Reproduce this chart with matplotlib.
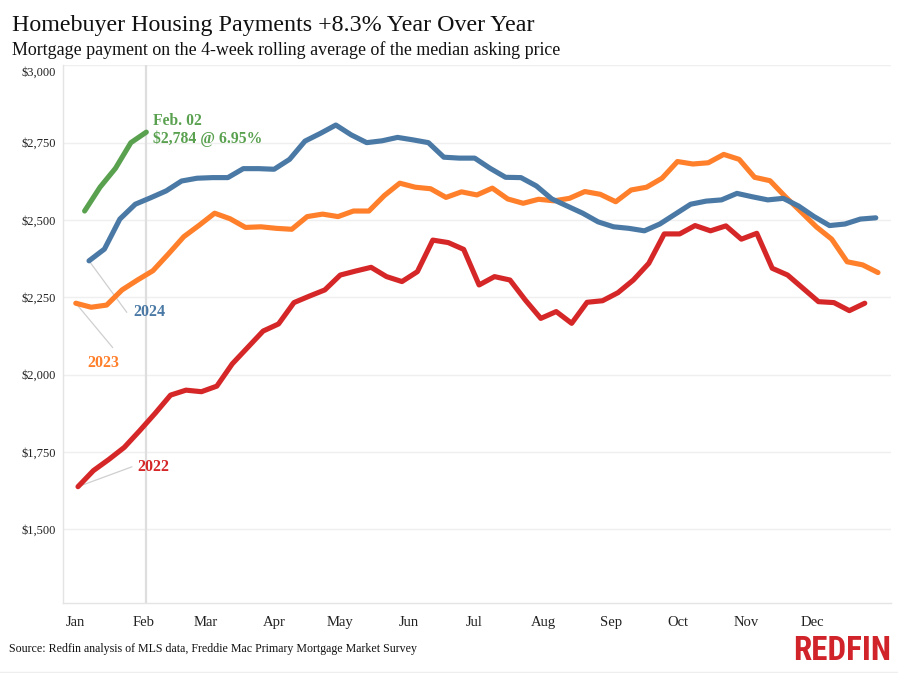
import numpy as np
import matplotlib
matplotlib.use("Agg")
import matplotlib.pyplot as plt
from matplotlib import font_manager as fm
from matplotlib.transforms import ScaledTranslation

# ---- data (weekly values, x = day of year of the week's Sunday) ----
start_2022, start_2023, start_2024, start_2025 = 2, 1, 7, 5
vals_2022 = [1638, 1690, 1726, 1765, 1819, 1875, 1934, 1950, 1945, 1963, 2035, 2088,
             2141, 2164, 2233, 2254, 2274, 2322, 2335, 2347, 2317, 2301, 2333, 2435,
             2427, 2405, 2290, 2317, 2306, 2241, 2182, 2204, 2166, 2234, 2239, 2265,
             2306, 2360, 2455, 2455, 2482, 2465, 2481, 2438, 2457, 2344, 2322, 2279,
             2236, 2233, 2207, 2231]
vals_2023 = [2231, 2218, 2225, 2274, 2306, 2336, 2390, 2446, 2483, 2522, 2504, 2476,
             2478, 2473, 2470, 2511, 2519, 2511, 2529, 2529, 2579, 2619, 2606, 2601,
             2573, 2591, 2581, 2603, 2568, 2554, 2567, 2562, 2570, 2592, 2583, 2559,
             2597, 2606, 2635, 2689, 2681, 2685, 2712, 2696, 2638, 2627, 2575, 2527,
             2478, 2438, 2365, 2355, 2330]
vals_2024 = [2368, 2406, 2503, 2551, 2572, 2594, 2626, 2635, 2637, 2637, 2666, 2666,
             2664, 2696, 2755, 2780, 2807, 2775, 2750, 2756, 2767, 2759, 2750, 2703,
             2700, 2700, 2667, 2638, 2637, 2610, 2568, 2545, 2522, 2494, 2478, 2473,
             2465, 2487, 2519, 2551, 2561, 2565, 2586, 2575, 2565, 2570, 2545, 2511,
             2482, 2487, 2503, 2507]
vals_2025 = [2529, 2606, 2667, 2750, 2784]

month_labels = ["Jan", "Feb", "Mar", "Apr", "May", "Jun", "Jul", "Aug", "Sep", "Oct", "Nov", "Dec"]
month_days = [1, 32, 60, 91, 121, 152, 182, 213, 244, 274, 305, 335]
y_ticks = [1500, 1750, 2000, 2250, 2500, 2750, 3000]

title = "Homebuyer Housing Payments +8.3% Year Over Year"
subtitle = "Mortgage payment on the 4-week rolling average of the median asking price"
source = "Source: Redfin analysis of MLS data, Freddie Mac Primary Mortgage Market Survey"
current_day = 33
current_text = "Feb. 02\n$2,784 @ 6.95%"

c2022, c2023, c2024, c2025 = "#D62728", "#FF7F2A", "#4A79A5", "#59A14F"

def days(start, vals):
    return start + 7 * np.arange(len(vals))

plt.rcParams['font.family'] = ['Liberation Serif', 'DejaVu Serif']

fig = plt.figure(figsize=(8.98, 6.73), dpi=100)
ax = fig.add_axes([63/898, 1-603/673, (891-63)/898, (603-65)/673])

ax.set_xlim(-4.8, 370.9)
ax.set_ylim(1262, 3001)

for y in y_ticks:
    ax.axhline(y, color="#efefef", lw=1.0, zorder=0)
ax.axvline(current_day, color="#dedede", lw=1.6, zorder=0.5)

lw = 3.7
kw = dict(lw=lw, solid_capstyle="round", solid_joinstyle="round")
x22, x23, x24, x25 = days(start_2022, vals_2022), days(start_2023, vals_2023), days(start_2024, vals_2024), days(start_2025, vals_2025)
ax.plot(x22, vals_2022, color=c2022, zorder=2, **kw)
ax.plot(x23, vals_2023, color=c2023, zorder=3, **kw)
ax.plot(x24, vals_2024, color=c2024, zorder=4, **kw)
ax.plot(x25, vals_2025, color=c2025, zorder=5, **kw)

# leader lines + year labels
lab_kw = dict(fontsize=11.5, fontweight="bold", ha="center", va="center")
for xs, vs, lx, ly, tx, ty, txt, col in [
        (x24, vals_2024, 24.1, 2202, 34.2, 2203, "2024", c2024),
        (x23, vals_2023, 17.7, 2088, 13.6, 2039, "2023", c2023),
        (x22, vals_2022, 26.4, 1702, 36.3, 1700, "2022", c2022)]:
    ax.plot([xs[0], lx], [vs[0], ly], color="#cfcfcf", lw=0.9, zorder=1)
    ax.text(tx, ty, txt, color=col, **lab_kw)

ax.annotate(current_text, (x25[-1], vals_2025[-1]), xytext=(5, 1.5), textcoords="offset points",
            ha="left", va="center", fontsize=11.3, fontweight="bold", color=c2025,
            linespacing=1.15)

ax.set_xticks(month_days)
ax.set_xticklabels(month_labels, fontsize=10.5)
ax.set_yticks(y_ticks)
ax.set_yticklabels([f"${v:,}" for v in y_ticks], fontsize=9)
ax.tick_params(axis="both", length=0, colors="#222222")
ax.tick_params(axis="x", pad=9.3)
ax.tick_params(axis="y", pad=5)
# top label sits a little below its gridline, as in the reference
top_lab = ax.get_yticklabels()[-1]
top_lab.set_transform(top_lab.get_transform() + ScaledTranslation(0, -6/100, fig.dpi_scale_trans))
for s in ["top", "right"]:
    ax.spines[s].set_visible(False)
for s in ["left", "bottom"]:
    ax.spines[s].set_color("#e4e4e4")
    ax.spines[s].set_linewidth(1.0)

fig.text(12/898, 1-25/673, title, fontsize=17.3, ha="left", va="center", color="#111111")
fig.text(12/898, 1-50/673, subtitle, fontsize=12.9, ha="left", va="center", color="#111111")
fig.text(9/898, 1-649/673, source, fontsize=8.6, ha="left", va="center", color="#111111")
fig.lines.append(plt.Line2D([0, 1], [1-671.5/673]*2, transform=fig.transFigure, color="#eeeeee", lw=1))

# logo text: choose a condensed bold sans if one is installed
names = {f.name for f in fm.fontManager.ttflist}
logo_family = "Liberation Sans"
for cand in ["DejaVu Sans Condensed", "Liberation Sans Narrow", "Roboto Condensed",
             "Open Sans Condensed", "Noto Sans Condensed"]:
    if cand in names:
        logo_family = cand
        break
cond = [f.name for f in fm.fontManager.ttflist if f.stretch in ("condensed", "semi-condensed")]
if logo_family == "Liberation Sans" and cond:
    logo_family = cond[0]
logo = fig.text(891/898, 1-651/673, "REDFIN", fontsize=20, ha="right", va="center", color="#D0232A",
                fontweight="bold", family=logo_family, fontstretch="condensed")
fig.canvas.draw()
w = logo.get_window_extent().width
logo.set_fontsize(20 * 98 / w)

fig.savefig("out.png", dpi=100)
